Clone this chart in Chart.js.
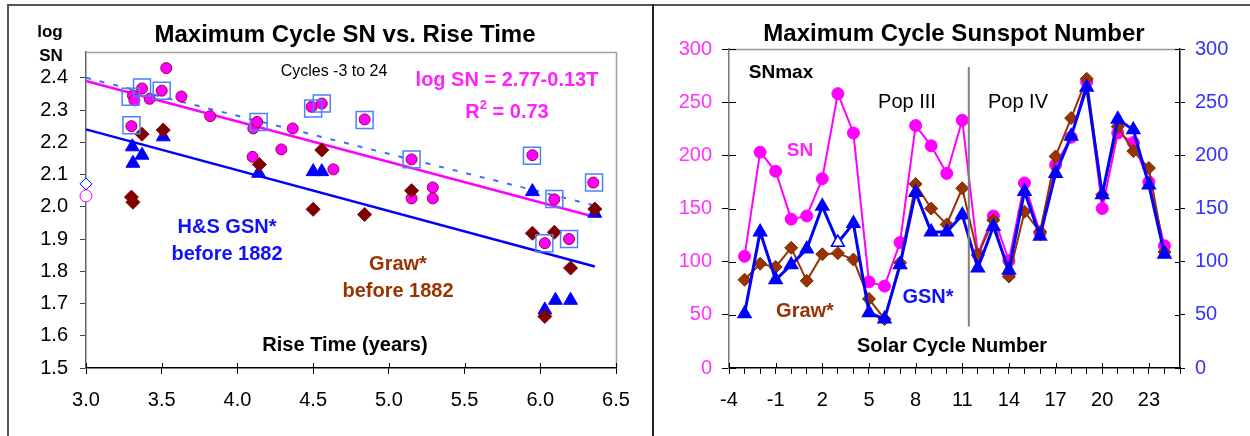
<!DOCTYPE html>
<html>
<head>
<meta charset="utf-8">
<script src="https://cdn.jsdelivr.net/npm/chart.js@4.4.1/dist/chart.umd.min.js"></script>
<style>
  html, body { margin: 0; padding: 0; background: #fff; }
  #wrap { position: relative; width: 1250px; height: 436px; overflow: hidden; }
  canvas { position: absolute; top: 0; }
  #left { left: 0; }
  #right { left: 653px; }
  .frame { position: absolute; background: #555; }
</style>
</head>
<body>
<div id="wrap">
  <canvas id="left" width="653" height="436"></canvas>
  <canvas id="right" width="597" height="436"></canvas>
  <div class="frame" style="left:7px;top:4px;width:1243px;height:2px"></div>
  <div class="frame" style="left:7px;top:4px;width:2px;height:432px"></div>
  <div class="frame" style="left:652px;top:4px;width:2px;height:432px;background:#222"></div>
</div>
<script>
// ======================
// Left: log SN vs rise time
// ======================
const snRise = [3.30, 3.31, 3.32, 3.37, 3.42, 3.50, 3.53, 3.63, 3.82, 4.10, 4.105, 4.13, 4.29, 4.365, 4.49, 4.557, 4.634, 4.84, 5.15, 5.15, 5.29, 5.29, 5.948, 6.03, 6.093, 6.19, 6.35];
const snLog = [2.25, 2.345, 2.33, 2.367, 2.335, 2.36, 2.43, 2.342, 2.281, 2.155, 2.243, 2.263, 2.178, 2.243, 2.31, 2.32, 2.116, 2.271, 2.147, 2.026, 2.06, 2.026, 2.16, 1.887, 2.023, 1.90, 2.075];

const boxRise = [3.295, 3.37, 3.50, 3.30, 4.14, 4.50, 4.557, 4.84, 5.15, 5.945, 6.093, 6.355, 6.027, 6.19];
const boxLog = [2.341, 2.37, 2.36, 2.253, 2.263, 2.305, 2.32, 2.269, 2.147, 2.158, 2.024, 2.075, 1.887, 1.90];

const grawRise = [3.30, 3.31, 3.37, 3.51, 4.145, 4.50, 4.557, 4.84, 5.15, 5.948, 6.03, 6.093, 6.20, 6.36];
const grawLog = [2.03, 2.014, 2.225, 2.238, 2.131, 1.992, 2.176, 1.976, 2.05, 1.918, 1.66, 1.921, 1.81, 1.993];

const gsnRise = [3.306, 3.31, 3.37, 3.51, 4.14, 4.50, 4.557, 5.948, 6.03, 6.10, 6.20, 6.36];
const gsnLog = [2.186, 2.135, 2.16, 2.217, 2.104, 2.109, 2.109, 2.047, 1.68, 1.71, 1.71, 1.98];

const openRise = [3.0];
const openDiamondLog = [2.071];
const openCircleLog = [2.034];

// regression lines (end points)
const snFitRise = [3.0, 6.35];
const snFitLog = [2.39, 1.97];
const gsnFitRise = [3.0, 6.36];
const gsnFitLog = [2.24, 1.815];
const boxFitRise = [3.0, 6.35];
const boxFitLog = [2.40, 2.005];

// ======================
// Right: max cycle sunspot number
// ======================
const cycles = [-3, -2, -1, 0, 1, 2, 3, 4, 5, 6, 7, 8, 9, 10, 11, 12, 13, 14, 15, 16, 17, 18, 19, 20, 21, 22, 23, 24];
const snMax = [105, 203, 185, 140, 143, 178, 258, 221, 81, 77, 118, 228, 209, 183, 233, 107, 143, 101, 174, 127, 191, 217, 269, 150, 221, 212, 175, 115];
const grawMax = [83, 98, 95, 113, 82, 107, 108, 102, 65, 46, 99, 173, 150, 135, 169, 106, 139, 86, 147, 128, 199, 235, 272, 163, 227, 204, 188, 109];
const gsnMax = [51, 128, 83, 97, 112, 152, 118, 136, 52, 46, 97, 165, 128, 128, 144, 94, 133, 92, 166, 124, 183, 218, 264, 163, 234, 224, 172, 107];
const gsnOpenCycle = 3;

// ========== helpers ==========
const FONT = "'Liberation Sans', Arial, sans-serif";
Chart.defaults.font.family = FONT;
Chart.defaults.color = '#000';

const pts = (xs, ys) => xs.map((x, i) => ({ x: x, y: ys[i] }));

function txt(ctx, s, x, y, size, bold, color) {
    ctx.font = (bold ? 'bold ' : '') + size + 'px ' + FONT;
    ctx.fillStyle = color;
    ctx.textAlign = 'center';
    ctx.textBaseline = 'alphabetic';
    ctx.fillText(s, x, y);
}

function line(ctx, x1, y1, x2, y2, color, w) {
    ctx.strokeStyle = color;
    ctx.lineWidth = w;
    ctx.beginPath();
    ctx.moveTo(x1, y1);
    ctx.lineTo(x2, y2);
    ctx.stroke();
}

// =============================
// Left chart
// =============================
const leftDecor = {
    id: 'leftDecor',
    afterDraw(chart) {
        const ctx = chart.ctx;
        const a = chart.chartArea;
        const xs = chart.scales.x;
        ctx.save();
        // plot area border (top / right)
        line(ctx, a.left, a.top + 0.5, a.right, a.top + 0.5, '#a0a0a0', 1.5);
        line(ctx, a.right + 0.5, a.top, a.right + 0.5, a.bottom, '#a0a0a0', 1.5);
        // inner half of x tick marks
        xs.ticks.forEach(t => {
            const p = Math.round(xs.getPixelForValue(t.value)) + 0.5;
            line(ctx, p, a.bottom, p, a.bottom - 5, '#000', 1);
        });

        txt(ctx, 'Maximum Cycle SN vs. Rise Time', 345, 42, 24, true, '#000');
        txt(ctx, 'log', 50, 37, 17, true, '#000');
        txt(ctx, 'SN', 51, 61, 17, true, '#000');
        txt(ctx, 'Cycles -3 to 24', 334, 76, 16, false, '#000');
        txt(ctx, 'log SN = 2.77-0.13T', 507, 86, 20, true, '#ff22ff');

        // R^2 = 0.73 with superscript
        ctx.font = 'bold 20px ' + FONT;
        const wR = ctx.measureText('R').width;
        const wRest = ctx.measureText(' = 0.73').width;
        ctx.font = 'bold 13px ' + FONT;
        const w2 = ctx.measureText('2').width;
        let x0 = 507 - (wR + w2 + wRest) / 2;
        ctx.textAlign = 'left';
        ctx.fillStyle = '#ff22ff';
        ctx.font = 'bold 20px ' + FONT;
        ctx.fillText('R', x0, 118);
        ctx.font = 'bold 13px ' + FONT;
        ctx.fillText('2', x0 + wR, 109);
        ctx.font = 'bold 20px ' + FONT;
        ctx.fillText(' = 0.73', x0 + wR + w2, 118);

        txt(ctx, 'H&S GSN*', 227, 233, 20, true, '#1010ff');
        txt(ctx, 'before 1882', 227, 260, 20, true, '#1010ff');
        txt(ctx, 'Graw*', 398, 270, 20, true, '#993300');
        txt(ctx, 'before 1882', 398, 297, 20, true, '#993300');
        txt(ctx, 'Rise Time (years)', 345, 351, 20, true, '#000');
        ctx.restore();
    }
};

new Chart(document.getElementById('left'), {
    type: 'scatter',
    data: {
        datasets: [
            { type: 'line', data: pts(snFitRise, snFitLog), borderColor: '#ff00ff', borderWidth: 2.5, pointRadius: 0, order: 10 },
            { type: 'line', data: pts(gsnFitRise, gsnFitLog), borderColor: '#0000ff', borderWidth: 2.5, pointRadius: 0, order: 10 },
            { type: 'line', data: pts(boxFitRise, boxFitLog), borderColor: '#3d6dff', borderWidth: 2, borderDash: [5, 9], pointRadius: 0, order: 10 },
            { data: pts(gsnRise, gsnLog), pointStyle: 'triangle', pointRadius: 8, backgroundColor: '#0000ff', borderColor: '#0000ff', borderWidth: 1, order: 4 },
            { data: pts(snRise, snLog), pointStyle: 'circle', pointRadius: 5.5, backgroundColor: '#ff00ff', borderColor: '#a0003c', borderWidth: 1, order: 3 },
            { data: pts(grawRise, grawLog), pointStyle: 'rectRot', pointRadius: 7, backgroundColor: '#800000', borderColor: '#800000', borderWidth: 1, order: 2 },
            { data: pts(boxRise, boxLog), pointStyle: 'rect', pointRadius: 12, backgroundColor: 'rgba(0,0,0,0)', borderColor: '#4d7fff', borderWidth: 1.5, order: 1 },
            { data: pts(openRise, openDiamondLog), pointStyle: 'rectRot', pointRadius: 6, backgroundColor: '#fff', borderColor: '#0000ff', borderWidth: 1, order: 0 },
            { data: pts(openRise, openCircleLog), pointStyle: 'circle', pointRadius: 6, backgroundColor: '#fff', borderColor: '#ff00ff', borderWidth: 1, order: 0 }
        ]
    },
    options: {
        responsive: false,
        animation: false,
        devicePixelRatio: 1,
        clip: false,
        layout: { padding: { left: 0, right: 37, top: 52, bottom: 0 } },
        plugins: { legend: { display: false }, tooltip: { enabled: false } },
        scales: {
            x: {
                type: 'linear', min: 3, max: 6.5,
                afterFit: s => { s.height = 68; },
                ticks: { stepSize: 0.5, autoSkip: false, maxRotation: 0, padding: 14, color: '#000', font: { size: 20 }, callback: v => v.toFixed(1) },
                grid: { drawOnChartArea: false, tickLength: 6, color: '#000' },
                border: { color: '#000', width: 1.5 }
            },
            y: {
                type: 'linear', min: 1.5, max: 2.48,
                afterFit: s => { s.width = 86; },
                afterBuildTicks: s => { s.ticks = s.ticks.filter(t => t.value < 2.45); },
                ticks: { stepSize: 0.1, padding: 12, color: '#000', font: { size: 20 }, callback: v => v.toFixed(1) },
                grid: { drawOnChartArea: false, tickLength: 6, color: '#444' },
                border: { color: '#666', width: 1.5 }
            }
        }
    },
    plugins: [leftDecor]
});

// =============================
// Right chart
// =============================
const rightDecor = {
    id: 'rightDecor',
    afterDraw(chart) {
        const ctx = chart.ctx;
        const a = chart.chartArea;
        const xs = chart.scales.x, ys = chart.scales.y, y2 = chart.scales.y2;
        ctx.save();
        line(ctx, a.left, a.top + 0.5, a.right, a.top + 0.5, '#999', 1.5);
        // inner half of the tick marks
        xs.ticks.forEach(t => {
            if ((t.value + 4) % 3 !== 0) return;
            const p = Math.round(xs.getPixelForValue(t.value)) + 0.5;
            line(ctx, p, a.bottom, p, a.bottom - 5, '#000', 1);
        });
        ys.ticks.forEach(t => {
            const p = Math.round(ys.getPixelForValue(t.value)) + 0.5;
            line(ctx, a.left, p, a.left + 7, p, '#000', 1);
        });
        y2.ticks.forEach(t => {
            const p = Math.round(y2.getPixelForValue(t.value)) + 0.5;
            line(ctx, a.right, p, a.right - 5, p, '#000', 1);
        });
        // Pop III / Pop IV divider
        const px = xs.getPixelForValue(11.42);
        line(ctx, px, ys.getPixelForValue(283), px, ys.getPixelForValue(39), '#808080', 2);

        txt(ctx, 'Maximum Cycle Sunspot Number', 301, 41, 24, true, '#000');
        txt(ctx, 'SNmax', 128, 78, 19, true, '#000');
        txt(ctx, 'SN', 147, 156, 19, true, '#ff22ff');
        txt(ctx, 'Pop III', 254, 108, 20, false, '#000');
        txt(ctx, 'Pop IV', 365, 108, 20, false, '#000');
        txt(ctx, 'Graw*', 152, 317, 20, true, '#993300');
        txt(ctx, 'GSN*', 275, 303, 20, true, '#1010ff');
        txt(ctx, 'Solar Cycle Number', 299, 352, 20, true, '#000');
        ctx.restore();
    }
};

new Chart(document.getElementById('right'), {
    type: 'line',
    data: {
        datasets: [
            {
                label: 'GSN*', data: pts(cycles, gsnMax), order: 0,
                borderColor: '#0000ff', borderWidth: 3,
                pointStyle: 'triangle', pointRadius: 7.5, pointBorderWidth: 1.5,
                pointBorderColor: '#0000ff',
                pointBackgroundColor: cycles.map(c => c === gsnOpenCycle ? '#fff' : '#0000ff')
            },
            {
                label: 'Graw*', data: pts(cycles, grawMax), order: 1,
                borderColor: '#993300', borderWidth: 2,
                pointStyle: 'rectRot', pointRadius: 6.5, pointBorderWidth: 1,
                pointBorderColor: '#7a2800', pointBackgroundColor: '#993300'
            },
            {
                label: 'SN', data: pts(cycles, snMax), order: 2,
                borderColor: '#ff00ff', borderWidth: 2,
                pointStyle: 'circle', pointRadius: 6, pointBorderWidth: 1,
                pointBorderColor: '#ff00ff', pointBackgroundColor: '#ff00ff'
            }
        ]
    },
    options: {
        responsive: false,
        animation: false,
        devicePixelRatio: 1,
        clip: false,
        layout: { padding: { left: 0, right: 0, top: 49, bottom: 0 } },
        plugins: { legend: { display: false }, tooltip: { enabled: false } },
        scales: {
            x: {
                type: 'linear', min: -4, max: 25,
                afterFit: s => { s.height = 68; },
                ticks: {
                    stepSize: 1, autoSkip: false, maxRotation: 0, padding: 14, color: '#000', font: { size: 20 },
                    callback: v => ((v + 4) % 3 === 0 && v < 24) ? String(v) : ''
                },
                grid: { drawOnChartArea: false, tickLength: 6, color: '#000' },
                border: { color: '#000', width: 1.5 }
            },
            y: {
                position: 'left', min: 0, max: 300,
                afterFit: s => { s.width = 76; },
                ticks: { stepSize: 50, padding: 10, color: '#ff33ff', font: { size: 20 } },
                grid: { drawOnChartArea: false, tickLength: 7, color: '#000' },
                border: { color: '#777', width: 1.5 }
            },
            y2: {
                position: 'right', min: 0, max: 300,
                afterFit: s => { s.width = 70; },
                ticks: { stepSize: 50, padding: 10, color: '#3333ff', font: { size: 20 } },
                grid: { drawOnChartArea: false, tickLength: 5, color: '#000' },
                border: { color: '#000', width: 1.5 }
            }
        }
    },
    plugins: [rightDecor]
});
</script>
</body>
</html>
